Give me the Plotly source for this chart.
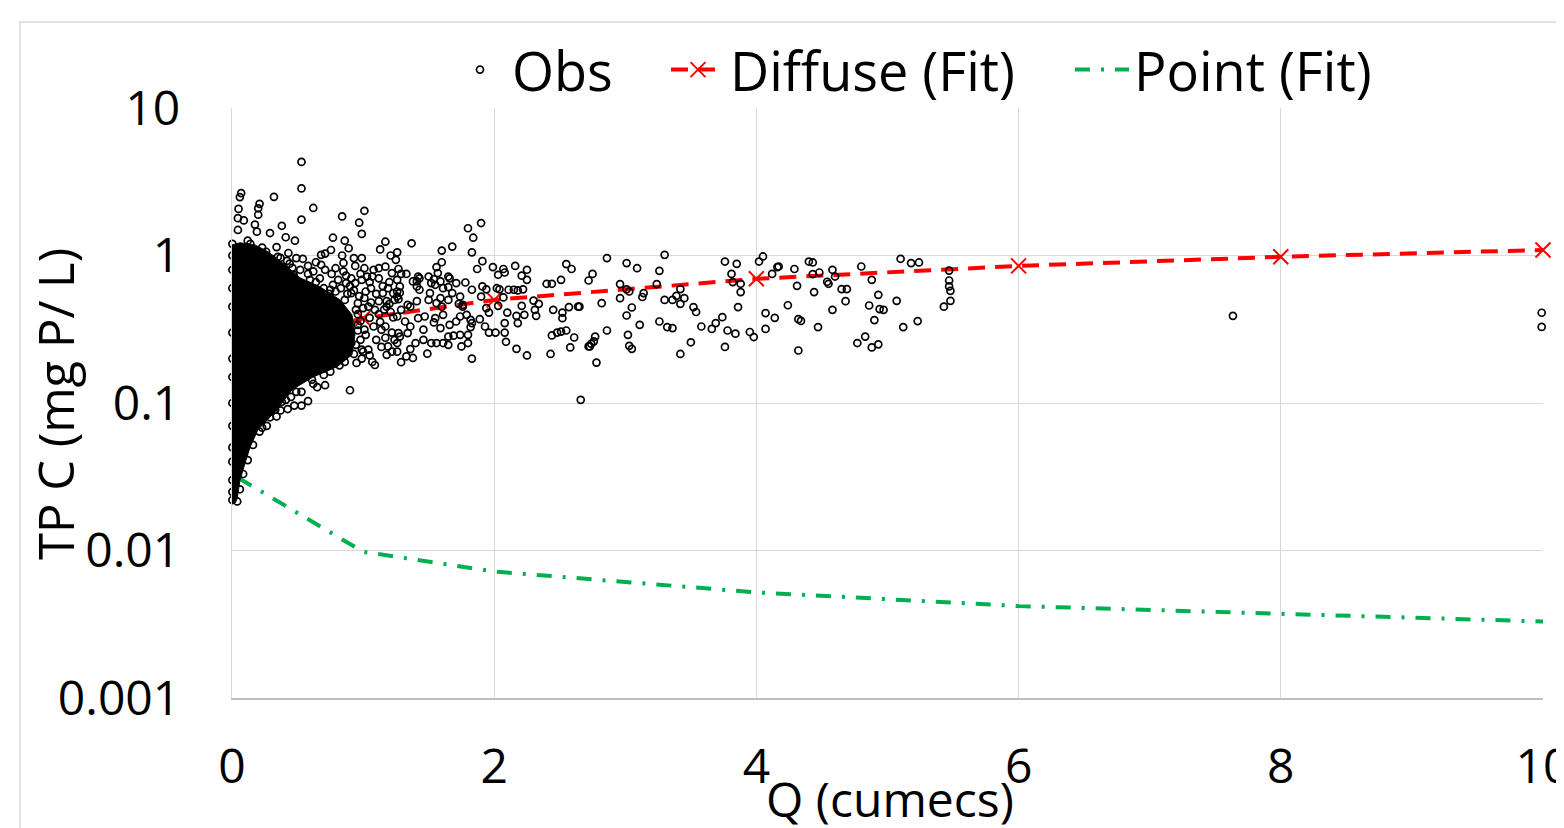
import plotly.graph_objects as go

# ---------------- data ----------------
# Fitted curves
diffuse_q = [0.5, 1, 2, 4, 6, 8, 10]
diffuse_c = [0.29, 0.375, 0.50, 0.695, 0.85, 0.98, 1.09]

point_q = [0.05, 1, 2, 4, 6, 8, 10]
point_c = [0.031, 0.0098, 0.0072, 0.0052, 0.0042, 0.0037, 0.0033]

# Outline of the dense (solid black) part of the observation cloud
blob_q = [0, 0, 0.061, 0.175, 0.275, 0.404, 0.519, 0.671, 0.824, 0.915, 0.938,
          0.915, 0.801, 0.618, 0.458, 0.328, 0.198, 0.137, 0.099, 0.061, 0.038, 0.008]
blob_c = [0.0205, 1.18, 1.22, 1.18, 1.06, 0.865, 0.706, 0.613, 0.50, 0.396, 0.29,
          0.212, 0.176, 0.15, 0.123, 0.087, 0.066, 0.050, 0.039, 0.030, 0.0222, 0.0209]

# Individual observations (Q, C) by region
obs_upper_left = [
    (0.53, 4.31), (0.53, 2.85), (0.53, 1.75), (0.62, 2.10), (0.32, 2.50), (0.07, 2.65),
    (0.06, 2.49), (0.05, 2.07), (0.045, 1.79), (0.09, 1.73), (0.045, 1.49), (0.21, 2.24),
    (0.20, 2.09), (0.20, 1.89), (0.175, 1.62), (0.19, 1.45), (0.29, 1.42), (0.38, 1.59),
    (0.41, 1.33), (0.48, 1.26), (0.12, 1.26), (0.84, 1.84), (1.01, 2.01), (0.97, 1.67),
    (0.99, 1.40), (0.77, 1.32), (0.86, 1.26), (0.89, 1.12), (1.17, 1.24), (1.13, 1.10),
    (0.755, 1.09), (0.71, 1.03), (0.68, 1.01), (0.54, 0.95), (0.49, 0.96), (0.43, 1.04),
    (0.34, 1.14), (0.26, 1.06), (0.84, 1.0), (0.93, 0.96), (0.99, 0.96), (1.26, 1.05),
    (1.21, 1.0), (1.25, 0.935), (0.85, 0.89), (0.94, 0.85), (1.01, 0.82), (1.08, 0.80),
    (1.12, 0.82), (1.17, 0.84), (1.27, 0.81), (1.22, 0.76), (1.29, 0.75), (1.07, 0.72),
    (1.12, 0.70), (0.99, 0.684), (0.91, 0.70), (0.71, 0.80), (0.76, 0.75), (0.68, 0.865),
    (0.58, 0.75), (0.81, 0.684), (0.90, 0.62), (0.94, 0.65), (1.01, 0.515), (1.12, 0.49),
    (1.23, 0.555), (1.27, 0.506), (1.18, 0.45), (1.04, 0.45), (0.91, 0.555), (0.96, 0.475),
]
obs_dense_fringe = [
    (0.55, 0.62), (0.60, 0.58), (0.64, 0.66), (0.70, 0.60), (0.74, 0.55), (0.79, 0.57),
    (0.83, 0.60), (0.88, 0.55), (0.93, 0.58), (0.97, 0.53), (1.02, 0.57), (1.06, 0.60),
    (1.10, 0.55), (1.15, 0.62), (1.20, 0.66), (1.05, 0.66), (0.98, 0.75), (1.03, 0.72),
    (0.87, 0.73), (0.64, 0.90), (0.58, 0.85), (0.62, 0.78), (0.52, 0.80), (0.47, 0.74),
    (0.44, 0.88), (0.35, 0.98), (0.30, 0.95), (0.42, 0.92), (0.96, 0.40), (1.00, 0.44),
    (1.06, 0.48), (1.12, 0.40), (1.16, 0.43), (1.20, 0.47), (1.23, 0.38), (1.14, 0.24),
    (1.05, 0.21), (0.98, 0.36), (1.02, 0.29), (1.08, 0.33), (1.17, 0.33), (1.22, 0.30),
    (0.96, 0.31), (0.99, 0.23), (0.93, 0.215), (0.82, 0.18), (0.70, 0.155), (0.62, 0.135),
    (0.45, 0.11), (0.33, 0.09),
]
obs_q1_2 = [
    (1.37, 1.21), (1.60, 1.08), (1.68, 1.15), (1.80, 1.53), (1.90, 1.66), (1.84, 1.32),
    (1.83, 1.05), (1.91, 0.915), (1.99, 0.835), (1.87, 0.81), (2.03, 0.74), (1.60, 0.90),
    (1.56, 0.835), (1.57, 0.76), (1.65, 0.72), (1.71, 0.65), (1.78, 0.656), (1.50, 0.72),
    (1.54, 0.69), (1.55, 0.633), (1.61, 0.60), (1.68, 0.556), (1.74, 0.527), (1.83, 0.586),
    (1.91, 0.617), (1.94, 0.59), (2.02, 0.60), (1.90, 0.527), (1.33, 0.75), (1.42, 0.72),
    (1.41, 0.617), (1.43, 0.586), (1.51, 0.556), (1.59, 0.514), (1.65, 0.50), (1.76, 0.463),
    (1.28, 0.617), (1.28, 0.56), (1.19, 0.60), (1.26, 0.527), (1.15, 0.556), (1.18, 0.49),
    (1.41, 0.49), (1.34, 0.463), (1.50, 0.50), (1.56, 0.475), (0.79, 0.82), (0.85, 0.78),
    (0.87, 0.65), (0.77, 0.633), (0.67, 0.70),
]
obs_q2_3 = [
    (2.07, 0.81), (2.08, 0.767), (2.16, 0.85), (2.25, 0.80), (2.21, 0.73), (2.25, 0.684),
    (2.22, 0.59), (2.55, 0.875), (2.59, 0.81), (2.51, 0.684), (2.72, 0.677), (2.40, 0.643),
    (2.44, 0.643), (2.04, 0.59), (2.11, 0.586), (2.15, 0.586), (2.18, 0.58), (2.07, 0.52),
    (2.30, 0.495), (2.34, 0.47), (2.31, 0.428), (2.32, 0.39), (2.21, 0.456), (2.23, 0.396),
    (2.17, 0.39), (2.18, 0.348), (2.10, 0.41), (2.08, 0.348), (2.03, 0.456), (1.94, 0.44),
    (1.96, 0.41), (1.89, 0.37), (1.83, 0.348), (1.82, 0.327), (1.80, 0.29), (1.93, 0.33),
    (1.96, 0.30), (2.01, 0.30), (2.08, 0.30), (2.09, 0.26), (2.17, 0.233), (2.25, 0.21),
    (2.43, 0.215), (2.44, 0.287), (2.48, 0.30), (2.51, 0.305), (2.55, 0.31), (2.61, 0.278),
    (2.58, 0.238), (2.72, 0.242), (2.45, 0.428), (2.52, 0.41), (2.57, 0.447), (2.64, 0.45),
    (2.52, 0.376), (1.83, 0.20), (1.75, 0.242), (1.80, 0.255), (1.74, 0.29), (1.69, 0.286),
    (1.65, 0.248), (1.61, 0.255), (1.56, 0.255), (1.52, 0.255), (1.49, 0.216), (1.46, 0.268),
    (1.40, 0.255), (1.36, 0.232), (1.29, 0.189), (1.33, 0.207), (1.38, 0.202), (1.26, 0.223),
    (1.24, 0.268), (1.28, 0.282), (1.34, 0.298), (1.46, 0.314), (1.54, 0.352), (1.59, 0.322),
    (1.66, 0.339), (1.65, 0.282), (1.71, 0.357), (1.74, 0.386), (1.79, 0.396), (1.82, 0.366),
    (1.76, 0.45), (1.73, 0.47), (1.66, 0.70), (1.65, 0.61), (1.59, 0.667), (1.52, 0.65),
    (1.43, 0.70), (1.41, 0.667), (1.60, 0.45), (1.61, 0.396), (1.55, 0.376), (1.47, 0.386),
    (1.42, 0.376), (1.36, 0.45), (1.29, 0.428), (1.26, 0.57), (1.26, 0.684), (1.38, 0.667),
    (1.24, 0.50), (1.26, 0.386), (1.32, 0.357), (1.36, 0.33),
]
obs_q3_4 = [
    (2.86, 0.96), (3.01, 0.888), (3.09, 0.82), (3.30, 1.01), (3.26, 0.787), (3.24, 0.64),
    (2.75, 0.75), (2.96, 0.64), (3.01, 0.59), (3.03, 0.57), (3.14, 0.556), (3.13, 0.523),
    (2.96, 0.514), (2.82, 0.475), (3.05, 0.444), (3.01, 0.392), (3.11, 0.339), (2.86, 0.31),
    (3.02, 0.29), (3.03, 0.244), (3.05, 0.233), (2.77, 0.282), (2.76, 0.262), (2.74, 0.252),
    (2.73, 0.242), (2.78, 0.188), (3.30, 0.50), (3.36, 0.50), (3.39, 0.533), (3.42, 0.592),
    (3.45, 0.514), (3.42, 0.47), (3.52, 0.447), (3.54, 0.414), (3.26, 0.357), (3.32, 0.327),
    (3.36, 0.322), (3.58, 0.33), (3.50, 0.258), (3.42, 0.215), (3.76, 0.91), (3.85, 0.878),
    (3.81, 0.75), (3.82, 0.66), (3.88, 0.643), (3.88, 0.565), (3.86, 0.447), (3.74, 0.382),
    (3.69, 0.348), (3.66, 0.318), (3.78, 0.31), (3.84, 0.295), (3.95, 0.303), (3.98, 0.28),
    (3.76, 0.24), (4.02, 0.91), (4.05, 0.985), (4.12, 0.75), (4.16, 0.835), (4.07, 0.407),
    (4.14, 0.378), (4.07, 0.318), (2.65, 0.45), (2.66, 0.105),
]
obs_q4_10 = [
    (4.17, 0.842), (4.29, 0.81), (4.40, 0.91), (4.43, 0.897), (4.43, 0.748), (4.48, 0.767),
    (4.58, 0.80), (4.60, 0.72), (4.31, 0.623), (4.44, 0.565), (4.54, 0.664), (4.55, 0.643),
    (4.65, 0.592), (4.69, 0.592), (4.68, 0.49), (4.58, 0.428), (4.24, 0.46), (4.32, 0.37),
    (4.34, 0.36), (4.47, 0.327), (4.32, 0.227), (4.80, 0.842), (4.88, 0.684), (4.93, 0.541),
    (4.86, 0.458), (4.94, 0.433), (4.97, 0.428), (4.90, 0.365), (4.83, 0.282), (4.77, 0.255),
    (4.88, 0.238), (4.93, 0.25), (5.10, 0.95), (5.18, 0.888), (5.24, 0.897), (5.07, 0.493),
    (5.12, 0.327), (5.23, 0.359), (5.47, 0.79), (5.47, 0.677), (5.47, 0.617), (5.48, 0.576),
    (5.48, 0.493), (5.43, 0.45), (7.635, 0.39), (9.99, 0.409), (9.99, 0.328),
]
obs_cloud_edge = [
    (0.65, 0.128), (0.71, 0.132), (0.53, 0.119), (0.58, 0.103), (0.53, 0.096), (0.475, 0.096),
    (0.425, 0.091), (0.41, 0.105), (0.37, 0.089), (0.34, 0.081), (0.265, 0.070), (0.23, 0.068),
    (0.90, 0.122), (1.09, 0.181), (1.07, 0.19), (0.99, 0.20), (1.18, 0.212), (1.22, 0.223),
    (1.19, 0.242), (1.26, 0.255), (1.27, 0.298), (1.14, 0.314), (1.10, 0.268), (1.04, 0.23),
    (0.95, 0.187), (1.00, 0.223), (0.91, 0.255), (1.05, 0.378), (1.13, 0.355), (1.01, 0.314),
    (1.21, 0.414), (1.09, 0.428), (0.98, 0.268), (1.17, 0.277),
    (0.14, 1.2), (0.23, 1.13), (0.37, 0.965), (0.46, 0.825), (0.595, 0.684), (0.75, 0.586),
    (0.86, 0.50), (0.945, 0.428), (0.96, 0.339), (0.945, 0.248), (0.86, 0.19), (0.75, 0.163),
    (0.61, 0.144), (0.49, 0.119), (0.38, 0.102), (0.29, 0.08), (0.21, 0.064), (0.16, 0.052),
    (0.12, 0.041), (0.085, 0.033), (0.06, 0.026), (0.04, 0.0215),
    (0.003, 0.022), (0.003, 0.025), (0.003, 0.03), (0.003, 0.04), (0.003, 0.05), (0.003, 0.07),
    (0.003, 0.1), (0.003, 0.15), (0.003, 0.2), (0.003, 0.3), (0.003, 0.45), (0.003, 0.6),
    (0.003, 0.8), (0.003, 1.0), (0.003, 1.2),
]

obs_all = (obs_upper_left + obs_dense_fringe + obs_q1_2 + obs_q2_3 + obs_q3_4
           + obs_q4_10 + obs_cloud_edge)
obs_q = [p[0] for p in obs_all]
obs_c = [p[1] for p in obs_all]

x_ticks = [0, 2, 4, 6, 8, 10]
y_ticks = [0.001, 0.01, 0.1, 1, 10]
y_tick_text = ["0.001", "0.01", "0.1", "1", "10"]

# ---------------- figure ----------------
FONT = "Open Sans"
fig = go.Figure()

fig.add_trace(go.Scatter(
    x=point_q, y=point_c, mode="lines", name="Point (Fit)",
    line=dict(color="#00b050", width=4, dash="15px,11px,3px,11px"),
    legend="legend3", cliponaxis=False, hoverinfo="skip"))

fig.add_trace(go.Scatter(
    x=diffuse_q, y=diffuse_c, mode="lines+markers", name="Diffuse (Fit)",
    line=dict(color="#ff0000", width=4, dash="17px,10px"),
    marker=dict(symbol="x-thin", size=15, color="#ff0000",
                line=dict(color="#ff0000", width=2)),
    legend="legend2", cliponaxis=False))

fig.add_trace(go.Scatter(
    x=blob_q, y=blob_c, mode="lines", fill="toself", fillcolor="black",
    line=dict(color="black", width=1), showlegend=False, hoverinfo="skip"))

fig.add_trace(go.Scatter(
    x=obs_q, y=obs_c, mode="markers", name="Obs",
    marker=dict(symbol="circle-open", size=7, color="black",
                line=dict(width=1.7, color="black")),
    legend="legend", cliponaxis=False))

# The page adds an 8px body margin, so the figure is laid out 8px smaller
W, H = 1556, 820
L, R, T, B = 224, 1535, 100, 690
pw, ph = R - L, B - T

def px_x(px):
    return (px - L) / pw

def px_y(py):
    return (B - py) / ph

leg_common = dict(orientation="h", yanchor="middle", y=px_y(62), xanchor="left",
                  font=dict(family=FONT, size=54, color="black"),
                  bgcolor="rgba(0,0,0,0)", itemwidth=54, borderwidth=0)

fig.update_layout(
    width=W, height=H,
    margin=dict(l=L, r=W - R, t=T, b=H - B, autoexpand=False),
    paper_bgcolor="white", plot_bgcolor="white",
    font=dict(family=FONT, color="black"),
    legend=dict(**leg_common, x=px_x(440)),
    legend2=dict(**leg_common, x=px_x(658)),
    legend3=dict(**leg_common, x=px_x(1062)),
    xaxis=dict(range=[0, 10], tickvals=x_ticks, showgrid=True, gridcolor="#d9d9d9",
               gridwidth=1.3, zeroline=False, showline=True, linecolor="#bfbfbf",
               linewidth=1.5, ticks="", tickfont=dict(family=FONT, size=48, color="black"),
               ticklabelstandoff=26, ticklabeloverflow="allow", automargin=False),
    yaxis=dict(type="log", range=[-3, 1], tickvals=y_ticks, ticktext=y_tick_text,
               showgrid=True, gridcolor="#d9d9d9", gridwidth=1.3, zeroline=False,
               showline=True, linecolor="#d9d9d9", linewidth=1.3, ticks="",
               tickfont=dict(family=FONT, size=48, color="black"), ticklabelstandoff=41,
               ticklabeloverflow="allow", automargin=False),
    annotations=[
        dict(text="Q (cumecs)", xref="paper", yref="paper", x=px_x(882), y=px_y(790),
             xanchor="center", yanchor="middle", showarrow=False,
             font=dict(family=FONT, size=48, color="black")),
        dict(text="TP C (mg P/ L)", xref="paper", yref="paper", x=px_x(47), y=px_y(396),
             xanchor="center", yanchor="middle", showarrow=False, textangle=-90,
             font=dict(family=FONT, size=49, color="black")),
    ],
    shapes=[dict(type="rect", xref="paper", yref="paper", x0=px_x(12), y0=px_y(850),
                 x1=px_x(1590), y1=px_y(14), line=dict(color="#d9d9d9", width=1.5),
                 layer="below")],
    showlegend=True,
)

fig.write_html("out.html")
